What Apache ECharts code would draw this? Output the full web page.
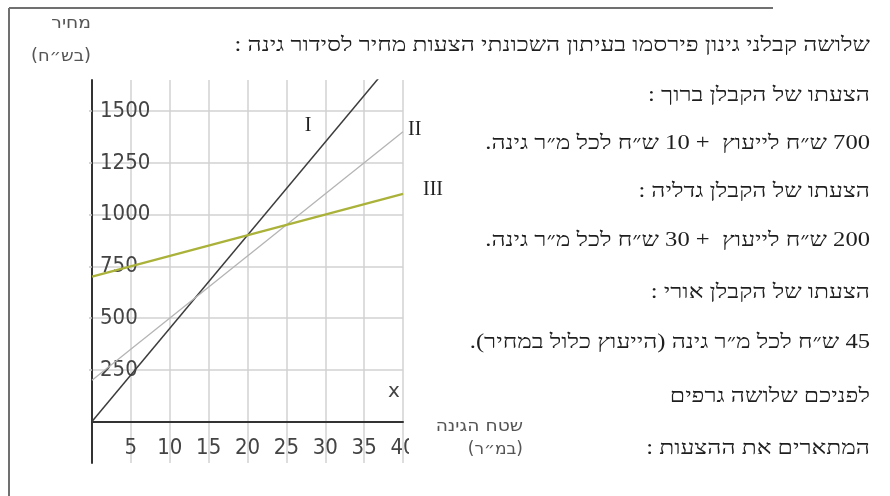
<!DOCTYPE html>
<html>
<head>
<meta charset="utf-8">
<script src="https://cdn.jsdelivr.net/npm/echarts@6/dist/echarts.min.js"></script>
<style>
	html, body { margin: 0; padding: 0; background: #fff; }
	#chart { width: 890px; height: 496px; }
</style>
</head>
<body>
<div id="chart" dir="rtl"></div>
<script>
// שטח הגינה (מ"ר) -> מחיר (ש"ח)
const offerI = [[0, 0], [40, 1800]];
const offerII = [[0, 200], [40, 1400]];
const offerIII = [[0, 700], [40, 1100]];
const priceTicks = [250, 500, 750, 1000, 1250, 1500];
const areaTicks = [5, 10, 15, 20, 25, 30, 35, 40];
const textLines = [
	"שלושה קבלני גינון פירסמו בעיתון השכונתי הצעות מחיר לסידור גינה :",
	"הצעתו של הקבלן ברוך :",
	"700 ש״ח לייעוץ  + 10 ש״ח לכל מ״ר גינה.",
	"הצעתו של הקבלן גדליה :",
	"200 ש״ח לייעוץ  + 30 ש״ח לכל מ״ר גינה.",
	"הצעתו של הקבלן אורי :",
	"45 ש״ח לכל מ״ר גינה (הייעוץ כלול במחיר).",
	"לפניכם שלושה גרפים",
	"המתארים את ההצעות :"
];
const lineY = [46, 96, 144, 192, 241, 293, 343, 397, 449];

let myChart = echarts.init(document.getElementById("chart"));

let romanStyle = {
	fontFamily: "Liberation Serif",
	fontSize: 20,
	color: "#222"
};
let tickFont = {
	fontFamily: "DejaVu Sans Condensed",
	fontSize: 22,
	color: "#444"
};
let nameFont = "17px 'DejaVu Sans'";

let graphics = [
	// מסגרת
	{ type: "line", shape: { x1: 9, y1: 8, x2: 773, y2: 8 }, style: { stroke: "#707070", lineWidth: 2 } },
	{ type: "line", shape: { x1: 9, y1: 8, x2: 9, y2: 496 }, style: { stroke: "#707070", lineWidth: 2 } },
	// שמות הצירים
	{ type: "text", x: 91, y: 24, scaleX: 1.1, style: { text: "מחיר", align: "right", verticalAlign: "middle", font: nameFont, fill: "#555" } },
	{ type: "text", x: 91, y: 57, scaleX: 1.05, style: { text: "(בש״ח)", align: "right", verticalAlign: "middle", font: nameFont, fill: "#555" } },
	{ type: "text", x: 523, y: 427, scaleX: 1.1, style: { text: "שטח הגינה", align: "right", verticalAlign: "middle", font: nameFont, fill: "#555" } },
	{ type: "text", x: 523, y: 450, scaleX: 1.0, style: { text: "(במ״ר)", align: "right", verticalAlign: "middle", font: nameFont, fill: "#555" } },
	{ type: "text", x: 394, y: 392, style: { text: "x", align: "center", verticalAlign: "middle", font: "20px 'DejaVu Sans'", fill: "#444" } },
	// the "40" label is cut off in the original
	{ type: "rect", z: 100, shape: { x: 409, y: 434, width: 14, height: 28 }, style: { fill: "#fff" } }
];
textLines.forEach((t, i) => {
	graphics.push({
		type: "text",
		x: 870,
		y: lineY[i],
		scaleX: 1.23,
		style: { text: t, align: "right", verticalAlign: "middle", font: "20px 'Liberation Serif'", fill: "#1e1e1e" }
	});
});

let option = {
	animation: false,
	grid: {
		left: 92,
		top: 80,
		right: 487,
		bottom: 33
	},
	xAxis: {
		type: "value",
		min: 0,
		max: 40,
		interval: 5,
		axisLine: { onZero: true, lineStyle: { color: "#333", width: 2 } },
		axisTick: { show: false },
		axisLabel: Object.assign({ inside: true, margin: 4, customValues: areaTicks }, tickFont),
		splitLine: { show: true, lineStyle: { color: "#d2d2d2", width: 1.5 } }
	},
	yAxis: {
		type: "value",
		min: -200,
		max: 1650,
		axisLine: { show: true, lineStyle: { color: "#333", width: 2 } },
		axisTick: { show: true, length: 3, customValues: priceTicks, lineStyle: { color: "#c8c8c8", width: 1.5 } },
		axisLabel: Object.assign({
			inside: true,
			margin: 8,
			customValues: priceTicks,
			formatter: function (v) {
				return String(v);
			}
		}, tickFont),
		splitLine: { show: true, lineStyle: { color: "#d2d2d2", width: 1.5 } }
	},
	graphic: graphics,
	series: [
		{
			name: "I",
			type: "line",
			data: offerI,
			symbol: "none",
			lineStyle: { color: "#3c3c3c", width: 1.5 },
			markPoint: {
				symbol: "circle",
				symbolSize: 1,
				itemStyle: { color: "transparent" },
				label: Object.assign({ show: true, position: "inside", formatter: "I" }, romanStyle),
				data: [{ coord: [27.8, 1428] }]
			}
		},
		{
			name: "II",
			type: "line",
			data: offerII,
			symbol: "none",
			lineStyle: { color: "#b4b4b4", width: 1.3 },
			endLabel: Object.assign({ show: true, formatter: "II", distance: 5, offset: [0, -2] }, romanStyle)
		},
		{
			name: "III",
			type: "line",
			data: offerIII,
			symbol: "none",
			lineStyle: { color: "#aab23a", width: 2.2 },
			endLabel: Object.assign({ show: true, formatter: "III", distance: 20, offset: [0, -4] }, romanStyle)
		}
	]
};
myChart.setOption(option);
</script>
</body>
</html>
